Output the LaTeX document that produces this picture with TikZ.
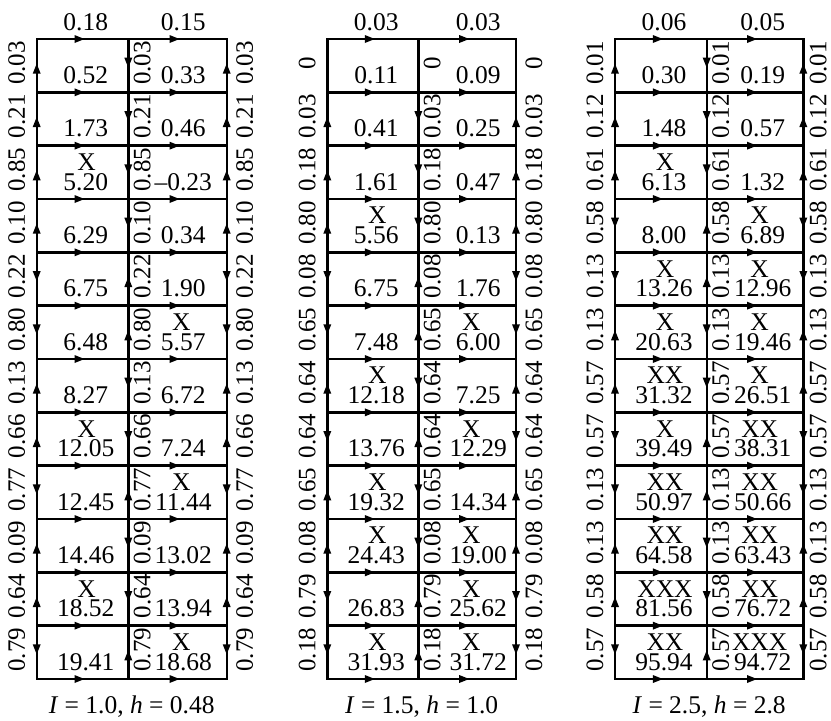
\documentclass[tikz,border=0pt]{standalone}
\usepackage{fontspec}
\setmainfont{Liberation Serif}
\usetikzlibrary{decorations.markings}
\tikzset{
  gridline/.style={line width=2.4pt, line cap=rect},
  marr/.style={gridline, postaction={decorate,decoration={markings,
      mark=at position 0.5 with {\fill (2pt,0pt) -- (-8pt,4pt) -- (-8pt,-4pt) -- cycle;}}}},
  cellnum/.style={font=\fontsize{25.5}{25.5}\selectfont, inner sep=0pt},
  xmark/.style={font=\fontsize{25.5}{25.5}\selectfont, inner sep=0pt},
  sidelab/.style={font=\fontsize{25}{25}\selectfont, rotate=90, inner sep=0pt},
  toplab/.style={font=\fontsize{25.5}{25.5}\selectfont, inner sep=0pt},
  capt/.style={font=\fontsize{25.5}{25.5}\selectfont, inner sep=0pt},
}
% #1 id, #2 x left, #3 x middle, #4 x right, #5 top-left label, #6 top-right label,
% #7 vertical edge list (label/sign), #8 cell list, #9 caption
\newcommand\drawpanel[9]{%
  \foreach \r in {0,...,12}{
    \coordinate (#1L\r) at (#2, 39+\r*53.3333);
    \coordinate (#1M\r) at (#3, 39+\r*53.3333);
    \coordinate (#1R\r) at (#4, 39+\r*53.3333);
  }
  \foreach \r in {0,...,12}{
    \draw[marr] (#1L\r) -- (#1M\r);
    \draw[marr] (#1M\r) -- (#1R\r);
  }
  \foreach \lab/\s [count=\r from 0] in {#7}{
    \pgfmathtruncatemacro\rn{\r+1}
    \ifnum\s=1
      \draw[marr] (#1L\rn) -- (#1L\r);
      \draw[marr] (#1M\r) -- (#1M\rn);
      \draw[marr] (#1R\rn) -- (#1R\r);
    \else\ifnum\s=-1
      \draw[marr] (#1L\r) -- (#1L\rn);
      \draw[marr] (#1M\rn) -- (#1M\r);
      \draw[marr] (#1R\r) -- (#1R\rn);
    \else
      \draw[gridline] (#1L\r) -- (#1L\rn);
      \draw[gridline] (#1M\r) -- (#1M\rn);
      \draw[gridline] (#1R\r) -- (#1R\rn);
    \fi\fi
    \node[sidelab] (#1sl\r) at (#2-20, 39+\r*53.3333+24) {\lab};
    \node[sidelab] (#1sm\r) at (#3+14, 39+\r*53.3333+24) {\lab};
    \node[sidelab] (#1sr\r) at (#4+\rlab, 39+\r*53.3333+24) {\lab};
  }
  \foreach \xa/\na/\xb/\nb [count=\r from 0] in {#8}{
    \node[xmark] (#1xa\r) at (#2+50, 39+\r*53.3333+16.5) {\xa};
    \node[cellnum] (#1na\r) at (#2+49, 39+\r*53.3333+36.3) {\na};
    \node[xmark] (#1xb\r) at (#3+53, 39+\r*53.3333+16.5) {\xb};
    \node[cellnum] (#1nb\r) at (#3+\roff, 39+\r*53.3333+36.3) {\nb};
  }
  \node[toplab] (#1tl) at (#2+49, 22) {#5};
  \node[toplab] (#1tr) at (#3+\roff, 22) {#6};
  \node[capt] (#1cap) at ({(#2+#4)/2}, 707) {#9};
}
\begin{document}
\begin{tikzpicture}[x=1pt,y=-1pt]
\useasboundingbox (0,0) rectangle (831,721);
\def\roff{55}\def\rlab{18}
\drawpanel{A}{36.7}{128.3}{226.7}{0.18}{0.15}
  {0.03/1,0.21/1,0.85/1,0.10/1,0.22/-1,0.80/-1,0.13/1,0.66/1,0.77/-1,0.09/1,0.64/1,0.79/-1}
  {{}/0.52/{}/0.33, {}/1.73/{}/0.46, X/5.20/{}/\textendash0.23, {}/6.29/{}/0.34,
   {}/6.75/{}/1.90, {}/6.48/X/5.57, {}/8.27/{}/6.72, X/12.05/{}/7.24,
   {}/12.45/X/11.44, {}/14.46/{}/13.02, X/18.52/{}/13.94, {}/19.41/X/18.68}
  {\textit{I} = 1.0, \textit{h} = 0.48}
\def\roff{60}\def\rlab{18}
\drawpanel{B}{327.3}{418.3}{516}{0.03}{0.03}
  {0/0,0.03/1,0.18/1,0.80/1,0.08/-1,0.65/-1,0.64/1,0.64/-1,0.65/1,0.08/1,0.79/-1,0.18/-1}
  {{}/0.11/{}/0.09, {}/0.41/{}/0.25, {}/1.61/{}/0.47, X/5.56/{}/0.13,
   {}/6.75/{}/1.76, {}/7.48/X/6.00, X/12.18/{}/7.25, {}/13.76/X/12.29,
   X/19.32/{}/14.34, X/24.43/X/19.00, {}/26.83/X/25.62, X/31.93/X/31.72}
  {\textit{I} = 1.5, \textit{h} = 1.0}
\def\roff{56}\def\rlab{15}
\drawpanel{C}{615}{706.7}{803.3}{0.06}{0.05}
  {0.01/1,0.12/1,0.61/1,0.58/-1,0.13/-1,0.13/1,0.57/1,0.57/-1,0.13/-1,0.13/1,0.58/1,0.57/-1}
  {{}/0.30/{}/0.19, {}/1.48/{}/0.57, X/6.13/{}/1.32, {}/8.00/X/6.89,
   X/13.26/X/12.96, X/20.63/X/19.46, XX/31.32/X/26.51, X/39.49/XX/38.31,
   XX/50.97/XX/50.66, XX/64.58/XX/63.43, XXX/81.56/XX/76.72, XX/95.94/XXX/94.72}
  {\textit{I} = 2.5, \textit{h} = 2.8}
\end{tikzpicture}
\end{document}
